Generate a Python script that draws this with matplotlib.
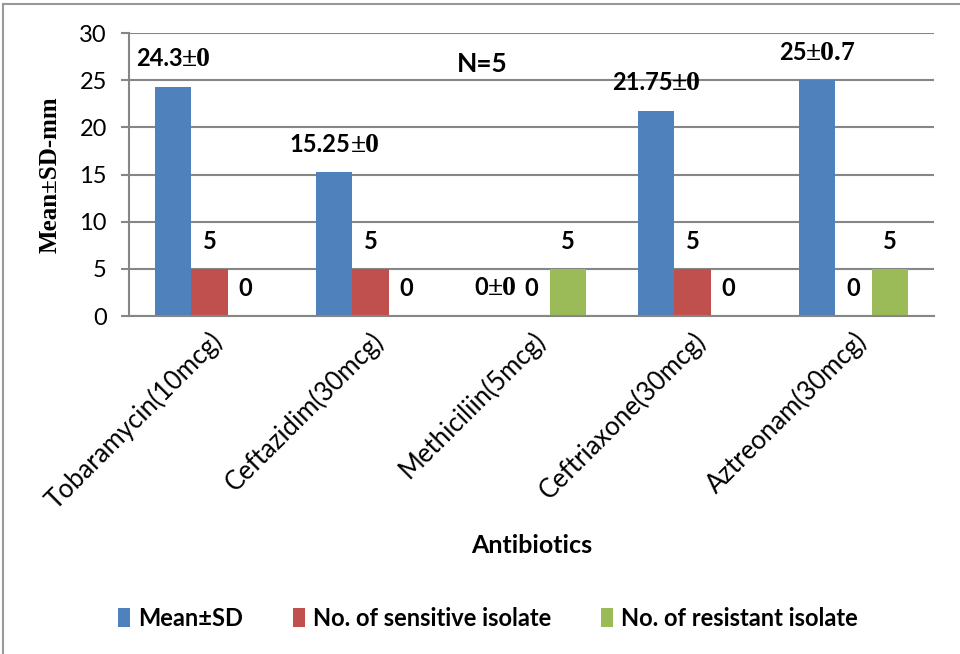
import numpy as np
import matplotlib
matplotlib.use("Agg")
import matplotlib.pyplot as plt
from matplotlib.lines import Line2D
from matplotlib.offsetbox import TextArea, HPacker, AnnotationBbox

antibiotics = ["Tobaramycin(10mcg)", "Ceftazidim(30mcg)", "Methiciliin(5mcg)",
               "Ceftriaxone(30mcg)", "Aztreonam(30mcg)"]
mean_mm = [24.3, 15.25, 0, 21.75, 25]
mean_labels = ["24.3\u00b10", "15.25\u00b10", "0\u00b10", "21.75\u00b10", "25\u00b10.7"]
sensitive = [5, 5, 0, 5, 0]
resistant = [0, 0, 5, 0, 5]
series_names = ["Mean\u00b1SD", "No. of sensitive isolate", "No. of resistant isolate"]
colors = ["#4F81BD", "#C0504D", "#9BBB59"]

plt.rcParams['font.family'] = ['Lato', 'DejaVu Sans']

fig = plt.figure(figsize=(9.6, 6.54), dpi=100)
ax = fig.add_axes([129/960, 1 - 316/654, 805/960, 283/654])

x = np.arange(len(antibiotics))
w = 0.224
grey = "#868686"

# figure border (left and top visible in the reference)
fig.add_artist(Line2D([3/960, 3/960], [0, 1 - 4/654], color="#999999", lw=1.5))
fig.add_artist(Line2D([3/960, 1], [1 - 4/654, 1 - 4/654], color="#999999", lw=1.5))

ax.set_axisbelow(True)
ax.yaxis.grid(True, color=grey, lw=1.5)
ax.set_ylim(0, 30)
ax.set_xlim(-0.5, len(antibiotics) - 0.5)
ax.set_yticks(range(0, 31, 5))

sans = {"fontsize": 17, "fontweight": "bold", "family": ["Lato", "DejaVu Sans"]}
serif = {"fontsize": 20, "fontweight": "bold", "family": "Liberation Serif"}

groups = [mean_mm, sensitive, resistant]
for i, (vals, c) in enumerate(zip(groups, colors)):
    bars = ax.bar(x + (i - 1) * w, vals, w, color=c, label=series_names[i])
    for j, b in enumerate(bars):
        xy = (b.get_x() + b.get_width() / 2, b.get_height())
        if i == 0:
            # number in sans, the "±sd" part in a serif face like the original
            num, sd = mean_labels[j].split("\u00b1")
            box = HPacker(children=[TextArea(num, textprops=sans),
                                    TextArea("\u00b1" + sd, textprops=serif)],
                          pad=0, sep=0, align="baseline")
            ax.add_artist(AnnotationBbox(box, xy, xybox=(0, 19.5),
                                         boxcoords="offset points",
                                         frameon=False, box_alignment=(0.5, 0.5)))
        else:
            ax.annotate(str(vals[j]), xy, xytext=(0, 19.5),
                        textcoords="offset points", ha="center", va="center",
                        **sans)

for s in ["top", "right"]:
    ax.spines[s].set_visible(False)
for s in ["left", "bottom"]:
    ax.spines[s].set_color(grey)
    ax.spines[s].set_linewidth(1.5)

ax.tick_params(axis="y", length=6, width=1.5, color=grey, labelsize=17, pad=10)
ax.tick_params(axis="x", length=0, pad=8)
ax.set_xticks(x)
ax.set_xticklabels(antibiotics, rotation=45, ha="right", va="top",
                   rotation_mode="anchor", fontsize=18.5)

ax.set_ylabel("Mean\u00b1SD-mm", family="Liberation Serif", fontweight="bold",
              fontsize=18)
ax.yaxis.set_label_coords(-67/805, 0.5)
ax.set_xlabel("Antibiotics", fontsize=18, fontweight="bold")
ax.xaxis.set_label_coords(0.5, -(534 - 316) / 283)

ax.text(0.4385, 26.7, "N=5", transform=ax.get_yaxis_transform(),
        ha="center", va="center", fontsize=19, fontweight="bold")

ax.legend(loc="center", bbox_to_anchor=(488/960, 1 - 618/654),
          bbox_transform=fig.transFigure, ncol=3, frameon=False,
          prop={"size": 17, "weight": "bold"}, handlelength=0.5,
          handleheight=0.9, handletextpad=0.35, columnspacing=2.1)

fig.savefig("out.png", dpi=100)
